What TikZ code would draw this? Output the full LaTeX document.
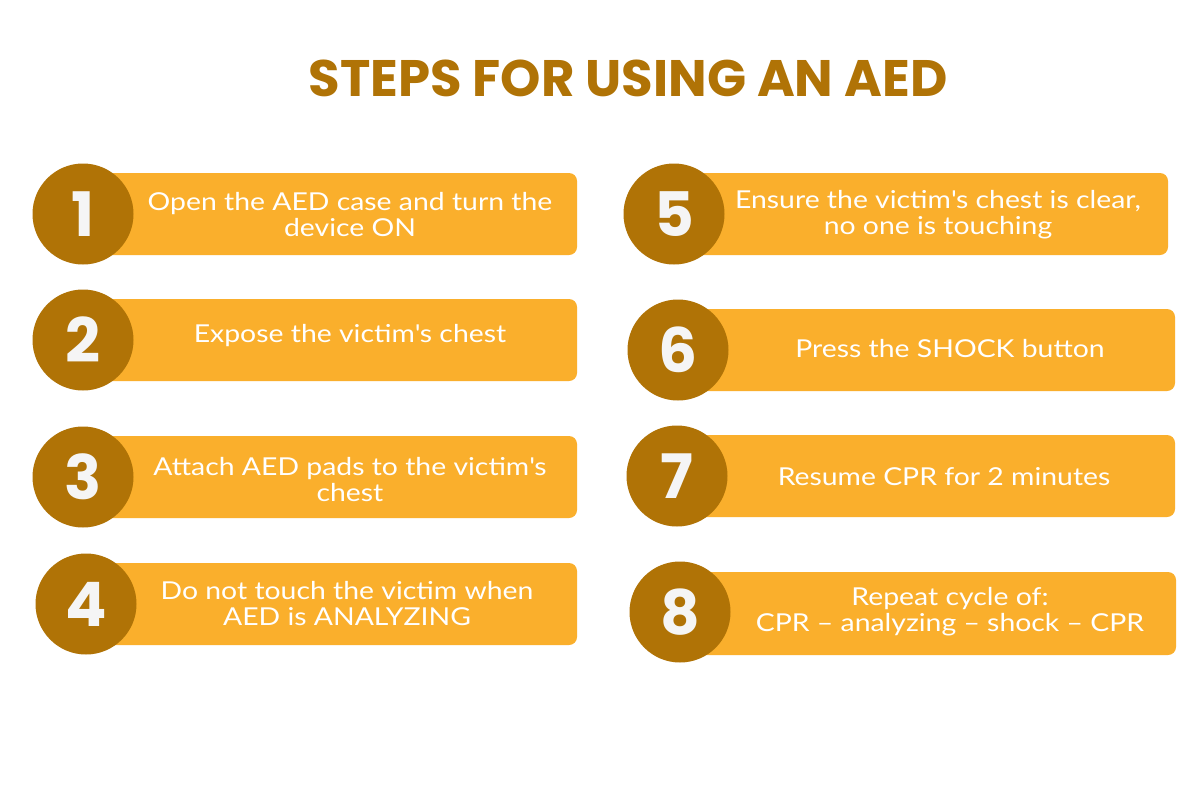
\documentclass[tikz,border=0pt]{standalone}
\usepackage{fontspec}
\setmainfont{Lato}[FakeStretch=1.15]
\newfontfamily\headfont{Poppins}
\usepackage{tikz}
\usetikzlibrary{positioning}
\definecolor{aedGold}{HTML}{B07306}
\definecolor{aedOrange}{HTML}{FAAF2C}
\definecolor{aedWhite}{HTML}{F5F5F5}

\tikzset{
  stepbar/.style={fill=aedOrange, rounded corners=6pt},
  stepnum/.style={circle, fill=aedGold, minimum size=75.75pt, inner sep=0pt,
    text=aedWhite, font=\headfont\bfseries\fontsize{46}{46}\selectfont},
  steptext/.style={text=white, align=center, font=\fontsize{18.5}{19.5}\selectfont}
}

\begin{document}
\begin{tikzpicture}[x=0.75pt, y=-0.75pt]
  \fill[white] (0,0) rectangle (1200,786);
  \useasboundingbox (0,0) rectangle (1200,786);

  \node[text=aedGold, font=\headfont\bfseries\fontsize{38.5}{38.5}\selectfont] (title) at (628,78) {STEPS FOR USING AN AED};

  % left column
  \fill[stepbar] (100,173) rectangle (577,255);
  \node[stepnum] (n1) at (83,214) {1};
  \node[steptext] (t1) at (350,215) {Open the AED case and turn the\\device ON};

  \fill[stepbar] (100,299) rectangle (577,381);
  \node[stepnum] (n2) at (83,340) {2};
  \node[steptext] (t2) at (350,336) {Expose the victim\textquotesingle s chest};

  \fill[stepbar] (100,436) rectangle (577,518);
  \node[stepnum] (n3) at (83,477) {3};
  \node[steptext] (t3) at (350,480) {Attach AED pads to the victim\textquotesingle s\\chest};

  \fill[stepbar] (100,563) rectangle (577,645);
  \node[stepnum] (n4) at (86,604) {4};
  \node[steptext] (t4) at (347,604) {Do not touch the victim when\\AED is ANALYZING};

  % right column
  \fill[stepbar] (690,173) rectangle (1168,255);
  \node[stepnum] (n5) at (674,214) {5};
  \node[steptext] (t5) at (938,215) {Ensure the victim\textquotesingle s chest is clear,\\no one is touching};

  \fill[stepbar] (690,309) rectangle (1175,391);
  \node[stepnum] (n6) at (678,350) {6};
  \node[steptext] (t6) at (950,349) {Press the SHOCK button};

  \fill[stepbar] (690,435) rectangle (1175,517);
  \node[stepnum] (n7) at (677,476) {7};
  \node[steptext] (t7) at (944,477) {Resume CPR for 2 minutes};

  \fill[stepbar] (690,572) rectangle (1176,655);
  \node[stepnum] (n8) at (680,612) {8};
  \node[steptext] (t8) at (950,612) {Repeat cycle of:\\CPR -- analyzing -- shock -- CPR};
\end{tikzpicture}
\end{document}
